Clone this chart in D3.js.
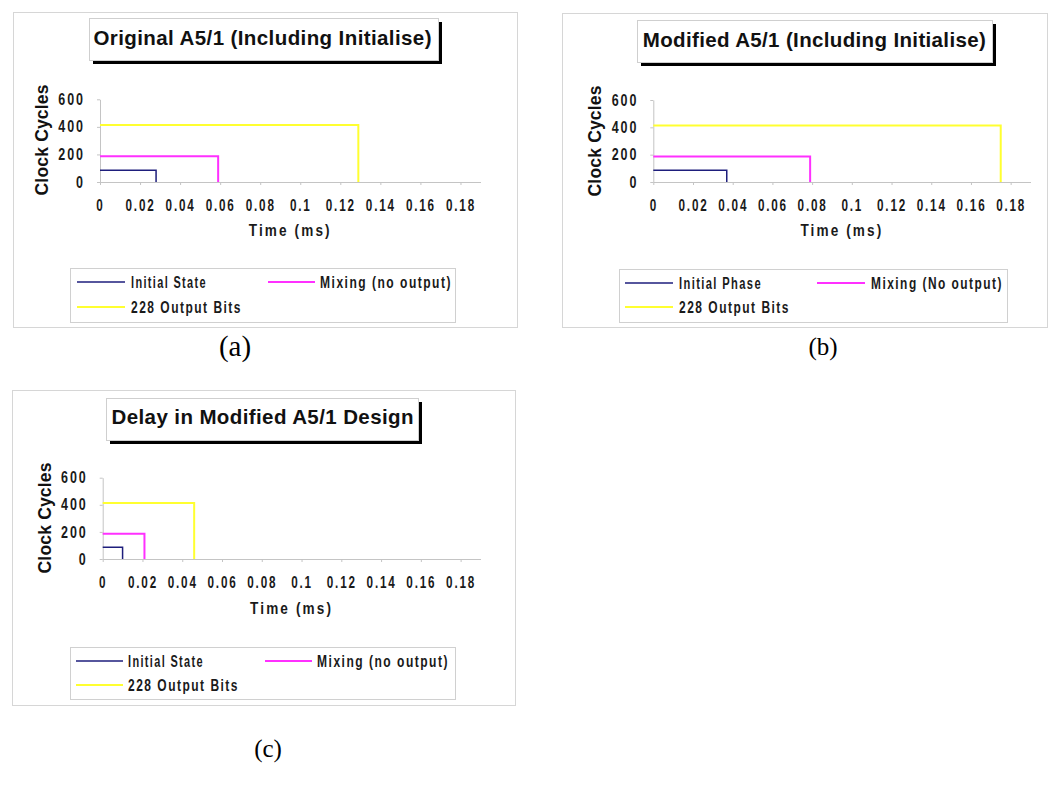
<!DOCTYPE html>
<html><head><meta charset="utf-8">
<script src="https://cdn.jsdelivr.net/npm/d3@7"></script>
<style>
body{margin:0;background:#fff}
.tick text{font-family:"Liberation Sans",Arial,sans-serif;font-weight:bold;fill:#1a1a1a}
</style>
</head><body>
<svg id="chart" width="1058" height="791"></svg>
<script>
// ---- data ----
const xTickValues = [0, 0.02, 0.04, 0.06, 0.08, 0.1, 0.12, 0.14, 0.16, 0.18];
const yTickValues = [0, 200, 400, 600];
const seriesCycles = [86, 186, 414];            // clock cycles of each phase
const timesOriginal = [0.028, 0.059, 0.129];    // ms, panel (a)
const timesModified = [0.037, 0.079, 0.175];    // ms, panel (b)
const timesDelay = [0.010, 0.021, 0.046];       // ms, panel (c)
const legendOriginal = ["Initial State", "Mixing (no output)", "228 Output Bits"];
const legendModified = ["Initial Phase", "Mixing (No output)", "228 Output Bits"];
const legendDelay = ["Initial State", "Mixing (no output)", "228 Output Bits"];
const chartTitles = ["Original A5/1 (Including Initialise)", "Modified A5/1 (Including Initialise)", "Delay in Modified A5/1 Design"];
const panelLabels = ["(a)", "(b)", "(c)"];
const yAxisTitle = "Clock Cycles";
const xAxisTitle = "Time (ms)";
const seriesColors = ["#1e1e7c", "#ff30ff", "#ffff30"];
const seriesWidths = [1.5, 2, 2];

// ---- layout ----
const panels = [
  {times: timesOriginal, legend: legendOriginal,
   frame: [13, 12, 517, 327], px: [100, 480.5], py: [182, 99.3],
   tbox: [89, 18, 438, 60], tcx: 262.5, tby: 45, tlen: 338,
   yt: [48, 140], xtY: 236,
   lbox: [70, 268, 455, 322], rows: [282, 307], c1: [77, 125, 131], c2: [268, 315, 320],
   lab: [235, 356, 29]},
  {times: timesModified, legend: legendModified,
   frame: [562, 13, 1047, 327], px: [653.3, 1030.5], py: [182, 100],
   tbox: [637, 20, 992, 62], tcx: 814.3, tby: 47, tlen: 343,
   yt: [601, 141], xtY: 236,
   lbox: [619, 269, 1007, 322], rows: [283, 307], c1: [625, 673, 679], c2: [817, 865, 871],
   lab: [823, 355, 25]},
  {times: timesDelay, legend: legendDelay,
   frame: [12, 390, 515, 705], px: [102.7, 480.5], py: [559, 477.7],
   tbox: [106, 398, 418, 440], tcx: 262.5, tby: 424, tlen: 302,
   yt: [51, 518], xtY: 614,
   lbox: [70, 647, 455, 699], rows: [661, 685], c1: [76, 123, 128], c2: [265, 312, 317],
   lab: [268, 757, 25]}
];

const svg = d3.select("#chart");
const sans = '"Liberation Sans",Arial,sans-serif';

// squeeze glyphs horizontally to imitate the condensed chart font
function squeeze(sel, factor) {
  sel.each(function () {
    const w = this.getComputedTextLength();
    d3.select(this).attr("textLength", w * factor).attr("lengthAdjust", "spacingAndGlyphs");
  });
}

panels.forEach((p, i) => {
  const g = svg.append("g");
  // frame
  g.append("rect").attr("x", p.frame[0] + 0.5).attr("y", p.frame[1] + 0.5)
    .attr("width", p.frame[2] - p.frame[0]).attr("height", p.frame[3] - p.frame[1])
    .attr("fill", "#fff").attr("stroke", "#d6d6d6").attr("stroke-width", 1);

  // title box with shadow
  const [bx0, by0, bx1, by1] = p.tbox;
  g.append("rect").attr("x", bx0 + 4).attr("y", by0 + 4).attr("width", bx1 - bx0).attr("height", by1 - by0).attr("fill", "#000");
  g.append("rect").attr("x", bx0 + 0.5).attr("y", by0 + 0.5).attr("width", bx1 - bx0).attr("height", by1 - by0)
    .attr("fill", "#fff").attr("stroke", "#cfcfcf");
  g.append("text").attr("x", p.tcx).attr("y", p.tby).attr("text-anchor", "middle")
    .attr("font-family", sans).attr("font-weight", "bold").attr("font-size", 20.5)
    .attr("textLength", p.tlen).attr("lengthAdjust", "spacing")
    .attr("fill", "#111").text(chartTitles[i]);

  // scales
  const x = d3.scaleLinear().domain([0, 0.19]).range(p.px);
  const y = d3.scaleLinear().domain([0, 600]).range(p.py);

  // axes
  const xAxis = g.append("g").attr("transform", `translate(0,${p.py[0]})`)
    .call(d3.axisBottom(x).tickValues(xTickValues).tickSize(3).tickSizeOuter(0).tickPadding(15).tickFormat(d => String(d)));
  xAxis.select(".domain").attr("stroke", "#c4c4c4");
  xAxis.selectAll(".tick line").attr("stroke", "#c4c4c4");
  xAxis.selectAll(".tick text").attr("font-size", 16).attr("letter-spacing", 2.5).call(squeeze, 0.73);

  const yAxis = g.append("g").attr("transform", `translate(${p.px[0]},0)`)
    .call(d3.axisLeft(y).tickValues(yTickValues).tickSize(3).tickSizeOuter(0).tickPadding(12).tickFormat(d => String(d)));
  yAxis.select(".domain").attr("stroke", "#c4c4c4");
  yAxis.selectAll(".tick line").attr("stroke", "#c4c4c4");
  yAxis.selectAll(".tick text").attr("font-size", 16).attr("letter-spacing", 2.5).call(squeeze, 0.78);

  // axis titles
  g.append("text").attr("transform", `translate(${p.yt[0]},${p.yt[1]}) rotate(-90)`)
    .attr("text-anchor", "middle").attr("font-family", sans)
    .attr("font-weight", "bold").attr("font-size", 17.5).attr("textLength", 111).attr("lengthAdjust", "spacing")
    .attr("fill", "#111").text(yAxisTitle);
  g.append("text").attr("x", (p.px[0] + p.px[1]) / 2).attr("y", p.xtY).attr("text-anchor", "middle")
    .attr("font-family", sans).attr("font-weight", "bold").attr("font-size", 16).attr("letter-spacing", 2.5)
    .attr("textLength", 83).attr("lengthAdjust", "spacingAndGlyphs").attr("fill", "#1a1a1a").text(xAxisTitle);

  // series: step lines (0,c) -> (t,c) -> (t,0)
  const line = d3.line().x(d => x(d[0])).y(d => y(d[1]));
  seriesCycles.forEach((c, k) => {
    const t = p.times[k];
    g.append("path").datum([[0, c], [t, c], [t, 0]]).attr("d", line)
      .attr("fill", "none").attr("stroke", seriesColors[k]).attr("stroke-width", seriesWidths[k]);
  });

  // legend
  const [lx0, ly0, lx1, ly1] = p.lbox;
  g.append("rect").attr("x", lx0 + 0.5).attr("y", ly0 + 0.5).attr("width", lx1 - lx0).attr("height", ly1 - ly0)
    .attr("fill", "#fff").attr("stroke", "#d0d0d0");
  const slots = [[p.c1, p.rows[0]], [p.c2, p.rows[0]], [p.c1, p.rows[1]]];
  const lens = p.legend.map(s => s.startsWith("Initial") ? (s.endsWith("Phase") ? 83 : 76) : s.startsWith("Mixing") ? 132 : 111);
  p.legend.forEach((name, k) => {
    const [col, ry] = slots[k];
    g.append("line").attr("x1", col[0]).attr("x2", col[1]).attr("y1", ry).attr("y2", ry)
      .attr("stroke", seriesColors[k]).attr("stroke-width", seriesWidths[k]);
    g.append("text").attr("x", col[2]).attr("y", ry + 5.5).attr("font-family", sans)
      .attr("font-weight", "bold").attr("font-size", 16).attr("letter-spacing", 2)
      .attr("textLength", lens[k]).attr("lengthAdjust", "spacingAndGlyphs")
      .attr("fill", "#1a1a1a").text(name);
  });

  // panel label
  svg.append("text").attr("x", p.lab[0]).attr("y", p.lab[1]).attr("text-anchor", "middle")
    .attr("font-family", '"Liberation Serif","Times New Roman",serif').attr("font-size", p.lab[2])
    .attr("fill", "#000").text(panelLabels[i]);
});
</script>
</body></html>
